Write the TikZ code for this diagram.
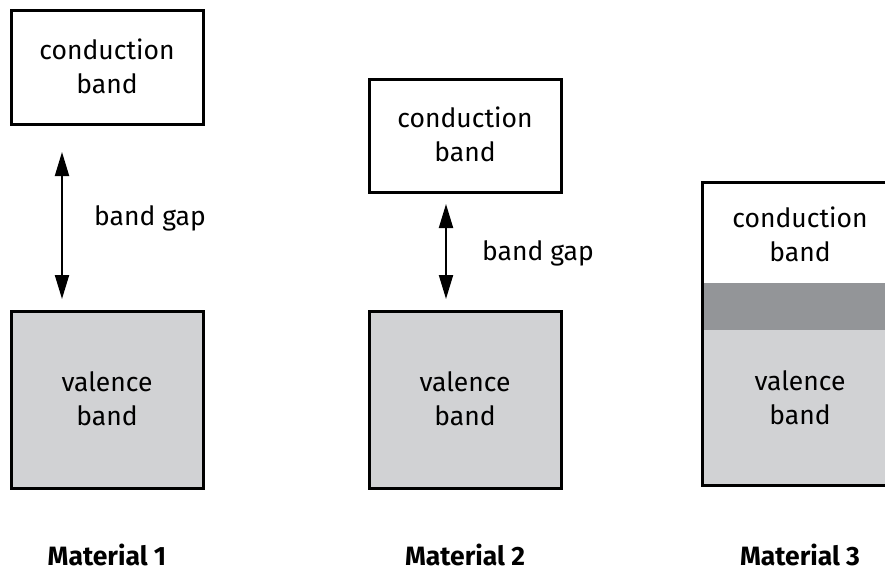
\documentclass[tikz,border=0pt]{standalone}
\usepackage{fontspec}
\setmainfont{Fira Sans}
\usetikzlibrary{arrows.meta}
\definecolor{valgray}{HTML}{D1D2D4}
\definecolor{gapgray}{HTML}{939598}
\begin{document}
\begin{tikzpicture}[x=1pt,y=-1pt,
  bandtxt/.style={align=center,font=\fontsize{26.5}{34}\selectfont,inner sep=0pt},
  matlabel/.style={font=\fontsize{26.5}{30}\selectfont\bfseries,inner sep=0pt},
  bandbox/.style={draw=black,line width=3pt},
  gaparrow/.style={line width=2pt,{Triangle[length=24pt,width=14pt]}-{Triangle[length=24pt,width=14pt]}}]
\useasboundingbox (0,0) rectangle (885,571);
\clip (0,0) rectangle (885,571);
% Material 1
\draw[bandbox,fill=white] (11,10) rectangle (203,124);
\node[bandtxt] (cb1) at (107,66) {conduction\\band};
\draw[bandbox,fill=valgray] (11,311) rectangle (203,488);
\node[bandtxt] (vb1) at (107,399) {valence\\band};
\coordinate (a1t) at (62,152);
\coordinate (a1b) at (62,299);
\draw[gaparrow] (a1t) -- (a1b);
\node[bandtxt] (bg1) at (150,218) {band gap};
\node[matlabel] (m1) at (107,555) {Material 1};
% Material 2
\draw[bandbox,fill=white] (369,79) rectangle (561,192);
\node[bandtxt] (cb2) at (465,134) {conduction\\band};
\draw[bandbox,fill=valgray] (369,311) rectangle (561,488);
\node[bandtxt] (vb2) at (465,399) {valence\\band};
\coordinate (a2t) at (446,204);
\coordinate (a2b) at (446,299);
\draw[gaparrow] (a2t) -- (a2b);
\node[bandtxt] (bg2) at (538,253) {band gap};
\node[matlabel] (m2) at (465,555) {Material 2};
% Material 3
\fill[valgray] (702,283) rectangle (890,485);
\fill[gapgray] (702,283) rectangle (890,330);
\draw[bandbox] (702,182) rectangle (890,485);
\node[bandtxt] (cb3) at (800,234) {conduction\\band};
\node[bandtxt] (vb3) at (800,398) {valence\\band};
\node[matlabel] (m3) at (800,555) {Material 3};
\end{tikzpicture}
\end{document}
